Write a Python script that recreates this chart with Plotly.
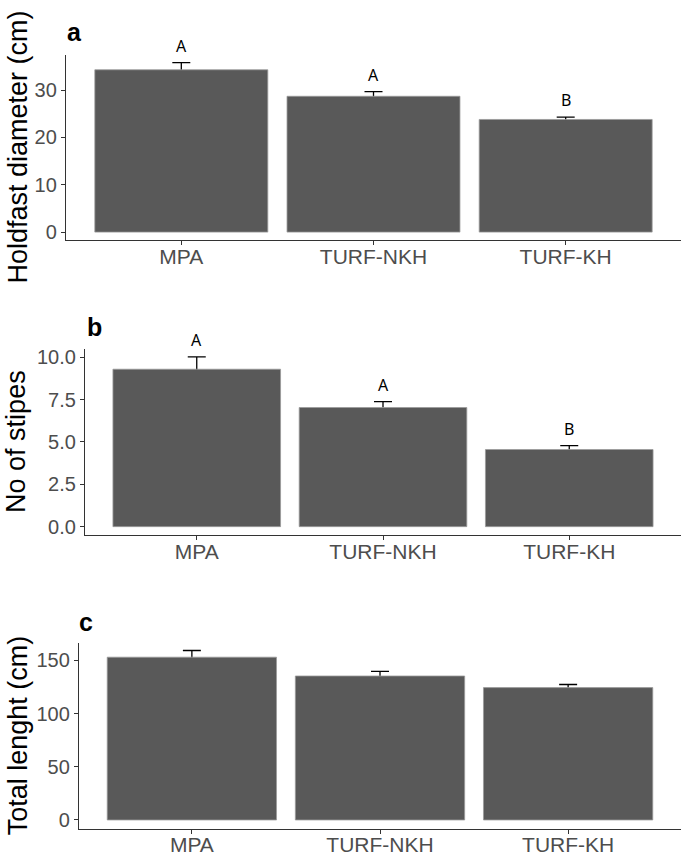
import plotly.graph_objects as go

categories = ["MPA", "TURF-NKH", "TURF-KH"]

holdfast_mean = [34.3, 28.7, 23.8]
holdfast_se = [1.5, 1.0, 0.5]
holdfast_letters = ["A", "A", "B"]

stipes_mean = [9.29, 7.03, 4.55]
stipes_se = [0.73, 0.35, 0.23]
stipes_letters = ["A", "A", "B"]

length_mean = [153.1, 135.4, 124.5]
length_se = [6.3, 4.4, 2.9]

panel_labels = ["a", "b", "c"]
y_titles = ["Holdfast diameter (cm)", "No of stipes", "Total lenght (cm)"]

W, H = 685, 862

# pixel layout of each panel: (left, top, bottom), right edge common
RIGHT = 681
panels = [
    dict(left=66, top=52, bottom=239, yrange=[-1.74, 37.5], tickvals=[0, 10, 20, 30], fmt=None),
    dict(left=85, top=348.3, bottom=536, yrange=[-0.51, 10.49], tickvals=[0, 2.5, 5, 7.5, 10], fmt=".1f"),
    dict(left=79, top=644, bottom=831.7, yrange=[-8.4, 166.9], tickvals=[0, 50, 100, 150], fmt=None),
]
means = [holdfast_mean, stipes_mean, length_mean]
ses = [holdfast_se, stipes_se, length_se]
letters = [holdfast_letters, stipes_letters, None]

title_pos = [(18, 145.5), (16, 442), (17.5, 738)]
label_pos = [(74, 29), (94, 326), (86, 623)]

FONT = "Liberation Sans, Arial, sans-serif"
fig = go.Figure()
layout = dict(
    width=W, height=H,
    margin=dict(l=0, r=0, t=0, b=0),
    paper_bgcolor="white", plot_bgcolor="white",
    showlegend=False, barmode="overlay",
    annotations=[],
)

for i, p in enumerate(panels):
    xa = "x" if i == 0 else f"x{i+1}"
    ya = "y" if i == 0 else f"y{i+1}"
    xkey = "xaxis" if i == 0 else f"xaxis{i+1}"
    ykey = "yaxis" if i == 0 else f"yaxis{i+1}"
    # error bars first (transparent bars), then the visible bars cover the lower half
    fig.add_trace(go.Bar(
        x=categories, y=means[i], width=0.9,
        marker=dict(color="rgba(0,0,0,0)", line=dict(width=0)),
        error_y=dict(type="data", array=ses[i], color="black",
                     thickness=1.3, width=9),
        xaxis=xa, yaxis=ya, hoverinfo="skip",
    ))
    fig.add_trace(go.Bar(
        x=categories, y=means[i], width=0.9,
        marker=dict(color="#595959", line=dict(color="#9a9a9a", width=0.8)),
        xaxis=xa, yaxis=ya, hoverinfo="skip",
    ))
    layout[xkey] = dict(
        domain=[p["left"] / W, RIGHT / W],
        anchor=ya, type="category", range=[-0.6, 2.6],
        showline=True, linecolor="#333333", linewidth=1.3,
        ticks="outside", ticklen=4, tickwidth=1.3, tickcolor="#333333",
        tickfont=dict(family=FONT, size=21, color="#4d4d4d"),
        ticklabelstandoff=-7,
        showgrid=False, zeroline=False, fixedrange=True,
    )
    yax = dict(
        domain=[1 - p["bottom"] / H, 1 - p["top"] / H],
        anchor=xa, range=p["yrange"],
        tickvals=p["tickvals"],
        showline=True, linecolor="#333333", linewidth=1.3,
        ticks="outside", ticklen=4, tickwidth=1.3, tickcolor="#333333",
        tickfont=dict(family=FONT, size=20, color="#4d4d4d"),
        showgrid=False, zeroline=False, fixedrange=True,
    )
    if p["fmt"]:
        yax["tickformat"] = p["fmt"]
    layout[ykey] = yax

    if letters[i]:
        for c, m, s, L in zip(categories, means[i], ses[i], letters[i]):
            layout["annotations"].append(dict(
                x=c, y=m + s, xref=xa, yref=ya, text=L, showarrow=False,
                yshift=17, yanchor="middle",
                font=dict(family="Noto Sans, sans-serif", size=16, color="black"),
            ))

    tx, ty = title_pos[i]
    layout["annotations"].append(dict(
        x=tx / W, y=1 - ty / H, xref="paper", yref="paper",
        text=y_titles[i], textangle=-90, showarrow=False,
        xanchor="center", yanchor="middle",
        font=dict(family=FONT, size=27, color="black"),
    ))
    lx, ly = label_pos[i]
    layout["annotations"].append(dict(
        x=lx / W, y=1 - ly / H, xref="paper", yref="paper",
        text=f"<b>{panel_labels[i]}</b>", showarrow=False,
        xanchor="center", yanchor="middle",
        font=dict(family=FONT, size=25, color="black"),
    ))

fig.update_layout(**layout)
fig.write_html("out.html", config={"displayModeBar": False},
               post_script="document.body.style.margin='0px';")
